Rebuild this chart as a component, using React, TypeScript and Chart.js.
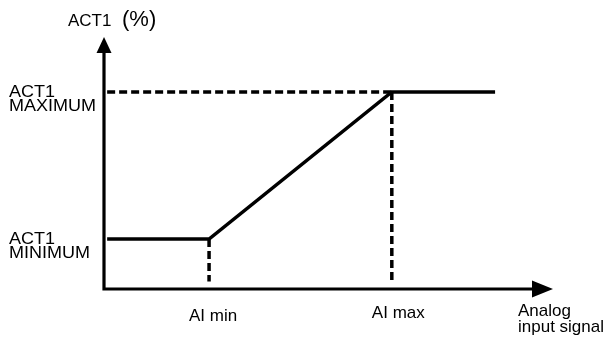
import React, { useEffect, useRef } from "react";
import { Chart, registerables } from "chart.js";

Chart.register(...registerables);

// Data (in chart units: x = analog input 0..100, y = ACT1 % 0..100)
const AI_MIN = 23.4;
const AI_MAX = 64.1;
const X_START = 0.7;
const X_END = 87.1;
const ACT_MIN = 19.8;
const ACT_MAX = 78.2;
const DASH_BOTTOM = 3;

const curveX = [X_START, AI_MIN, AI_MAX, X_END];
const curveY = [ACT_MIN, ACT_MIN, ACT_MAX, ACT_MAX];

const xTickValues = [AI_MIN, AI_MAX];
const xTickLabels = ["AI min", "AI max"];
const yTickValues = [ACT_MAX, ACT_MIN];
const yTickLabels = [["ACT1", "MAXIMUM"], ["ACT1", "MINIMUM"]];
const yAxisTitle = ["ACT1", "(%)"];
const xAxisTitle = ["Analog", "input signal"];

const FONT = '"Liberation Sans", Arial, sans-serif';

const decorPlugin = {
  id: "decor",
  afterDatasetsDraw(chart: any) {
    const ctx = chart.ctx;
    const xs = chart.scales.x;
    const ys = chart.scales.y;
    const x0 = xs.getPixelForValue(0);
    const y0 = ys.getPixelForValue(0);
    const yTop = ys.getPixelForValue(100);
    const xRight = xs.getPixelForValue(100);
    ctx.save();
    ctx.strokeStyle = "#000";
    ctx.fillStyle = "#000";
    ctx.lineWidth = 3.2;
    ctx.lineCap = "butt";
    // axes lines
    ctx.beginPath();
    ctx.moveTo(x0, y0 + 1.6);
    ctx.lineTo(x0, yTop + 15);
    ctx.moveTo(x0 - 1.6, y0);
    ctx.lineTo(xRight - 20, y0);
    ctx.stroke();
    // arrowheads
    ctx.beginPath();
    ctx.moveTo(x0, yTop);
    ctx.lineTo(x0 - 7.5, yTop + 16);
    ctx.lineTo(x0 + 7.5, yTop + 16);
    ctx.closePath();
    ctx.fill();
    ctx.beginPath();
    ctx.moveTo(xRight, y0);
    ctx.lineTo(xRight - 21, y0 - 8.5);
    ctx.lineTo(xRight - 21, y0 + 8.5);
    ctx.closePath();
    ctx.fill();

    // texts
    ctx.textBaseline = "alphabetic";
    ctx.textAlign = "left";
    ctx.font = `17px ${FONT}`;
    ctx.fillText(yAxisTitle[0], x0 - 36, yTop - 11);
    ctx.font = `22px ${FONT}`;
    ctx.fillText(yAxisTitle[1], x0 + 18, yTop - 11);

    ctx.font = `17px ${FONT}`;
    yTickValues.forEach((v, i) => {
      const py = ys.getPixelForValue(v);
      ctx.save();
      ctx.translate(9, 0);
      ctx.scale(1.06, 1);
      ctx.fillText(yTickLabels[i][0], 0, py + 5);
      ctx.fillText(yTickLabels[i][1], 0, py + 19);
      ctx.restore();
    });

    ctx.textAlign = "center";
    const xOff = [4, 6.5];
    const yOff = [32, 29];
    xTickValues.forEach((v, i) => {
      const px = xs.getPixelForValue(v);
      ctx.fillText(xTickLabels[i], px + xOff[i], y0 + yOff[i]);
    });

    ctx.textAlign = "left";
    ctx.fillText(xAxisTitle[0], xRight - 35, y0 + 27);
    ctx.fillText(xAxisTitle[1], xRight - 35, y0 + 43);
    ctx.restore();
  },
};

export default function App() {
  const ref = useRef<HTMLCanvasElement | null>(null);
  useEffect(() => {
    if (!ref.current) return;
    const solid = curveX.map((x, i) => ({ x, y: curveY[i] }));
    const dashMaxH = [
      { x: X_START, y: ACT_MAX },
      { x: AI_MAX, y: ACT_MAX },
    ];
    const dashMinV = [
      { x: AI_MIN, y: ACT_MIN },
      { x: AI_MIN, y: DASH_BOTTOM },
    ];
    const dashMaxV = [
      { x: AI_MAX, y: ACT_MAX },
      { x: AI_MAX, y: DASH_BOTTOM - 0.8 },
    ];
    const dashed = (data: any) => ({
      data,
      borderColor: "#000",
      borderWidth: 3.5,
      borderDash: [8, 4],
      pointRadius: 0,
      showLine: true,
      fill: false,
      tension: 0,
      borderCapStyle: "butt",
    });
    const chart = new Chart(ref.current, {
      type: "scatter",
      data: {
        datasets: [
          dashed(dashMaxH),
          dashed(dashMinV),
          dashed(dashMaxV),
          {
            data: solid,
            borderColor: "#000",
            borderWidth: 3.5,
            pointRadius: 0,
            showLine: true,
            fill: false,
            tension: 0,
            borderCapStyle: "butt",
            borderJoinStyle: "miter",
          } as any,
        ],
      },
      options: {
        animation: false,
        responsive: false,
        devicePixelRatio: 1,
        layout: { padding: { left: 104, right: 54, top: 37, bottom: 57 } },
        plugins: {
          legend: { display: false },
          tooltip: { enabled: false },
          title: { display: false },
        },
        scales: {
          x: { type: "linear", min: 0, max: 100, display: false },
          y: { type: "linear", min: 0, max: 100, display: false },
        },
      } as any,
      plugins: [decorPlugin],
    });
    return () => chart.destroy();
  }, []);
  return (
    <div style={{ position: "fixed", left: 0, top: 0, width: 607, height: 346, background: "#fff" }}>
      <canvas ref={ref} width={607} height={346} />
    </div>
  );
}
